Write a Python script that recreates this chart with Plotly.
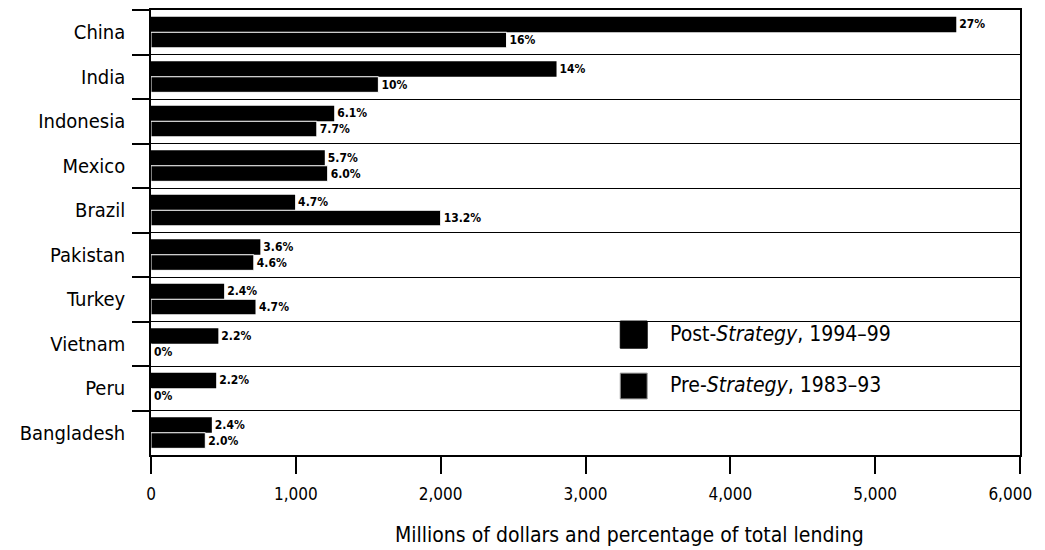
import plotly.graph_objects as go

# World Bank lending by country, millions of dollars
countries = ['China', 'India', 'Indonesia', 'Mexico', 'Brazil',
             'Pakistan', 'Turkey', 'Vietnam', 'Peru', 'Bangladesh']
post_values = [5560, 2800, 1265, 1200, 995, 755, 505, 465, 450, 420]
pre_values = [2455, 1570, 1145, 1220, 2000, 710, 725, 0, 0, 375]
post_labels = ['27%', '14%', '6.1%', '5.7%', '4.7%', '3.6%', '2.4%', '2.2%', '2.2%', '2.4%']
pre_labels = ['16%', '10%', '7.7%', '6.0%', '13.2%', '4.6%', '4.7%', '0%', '0%', '2.0%']
x_ticks = [0, 1000, 2000, 3000, 4000, 5000, 6000]
# last label padded so it stays inside the window
x_tick_labels = ['0', '1,000', '2,000', '3,000', '4,000', '5,000', '6,000\u2007\u2007']

font_family = 'DejaVu Sans Condensed, DejaVu Sans, sans-serif'
label_font = dict(family=font_family, size=12, color='black', weight='bold')

fig = go.Figure()

fig.add_trace(go.Bar(
    name='Post-Strategy, 1994-99',
    y=countries,
    x=post_values,
    orientation='h',
    marker=dict(color='black', line=dict(width=0)),
    text=post_labels,
    textposition='outside',
    textfont=label_font,
    cliponaxis=False,
))

fig.add_trace(go.Bar(
    name='Pre-Strategy, 1983-93',
    y=countries,
    x=pre_values,
    orientation='h',
    marker=dict(color='black', line=dict(color='white', width=1)),
    text=pre_labels,
    textposition='outside',
    textfont=label_font,
    cliponaxis=False,
))

# hand-drawn legend
fig.add_shape(type='rect', xref='paper', yref='paper',
              x0=0.540, x1=0.571, y0=0.240, y1=0.301,
              fillcolor='black', line=dict(color='black', width=1))
fig.add_shape(type='rect', xref='paper', yref='paper',
              x0=0.540, x1=0.571, y0=0.126, y1=0.184,
              fillcolor='black', line=dict(color='#999999', width=1))
fig.add_annotation(xref='paper', yref='paper', x=0.595, y=0.272,
                   text='Post-<i>Strategy</i>, 1994–99', showarrow=False,
                   xanchor='left', yanchor='middle',
                   font=dict(family=font_family, size=21, color='black'))
fig.add_annotation(xref='paper', yref='paper', x=0.595, y=0.157,
                   text='Pre-<i>Strategy</i>, 1983–93', showarrow=False,
                   xanchor='left', yanchor='middle',
                   font=dict(family=font_family, size=21, color='black'))

# x axis title sits a bit right of the plot centre in the original
fig.add_annotation(xref='paper', yref='paper', x=0.551, y=-0.18,
                   text='Millions of dollars and percentage of total lending',
                   showarrow=False, xanchor='center', yanchor='middle',
                   font=dict(family=font_family, size=21, color='black'))

# the page body has an 8px margin, so the figure is shrunk to fit the window
fig.update_layout(
    width=1037,
    height=542,
    margin=dict(l=143, r=25, t=2, b=95),
    barmode='group',
    bargap=0.3,
    bargroupgap=0,
    showlegend=False,
    plot_bgcolor='white',
    paper_bgcolor='white',
    font=dict(family=font_family, size=20, color='black'),
)

fig.update_xaxes(
    range=[0, 6000],
    tickvals=x_ticks,
    ticktext=x_tick_labels,
    ticks='outside',
    ticklen=17,
    tickwidth=1.5,
    tickcolor='black',
    showline=True,
    linecolor='black',
    linewidth=1.5,
    mirror=True,
    showgrid=False,
    zeroline=False,
    automargin=False,
    ticklabeloverflow='allow',
    ticklabelstandoff=6,
    tickfont=dict(size=17),
)

fig.update_yaxes(
    type='category',
    autorange='reversed',
    tickson='boundaries',
    ticks='outside',
    ticklen=17,
    tickwidth=1.5,
    tickcolor='black',
    showgrid=True,
    gridcolor='black',
    gridwidth=1,
    showline=True,
    linecolor='black',
    linewidth=1.5,
    mirror=True,
    automargin=False,
    ticklabelstandoff=20,
    tickfont=dict(size=20),
)

fig.write_html('out.html')
